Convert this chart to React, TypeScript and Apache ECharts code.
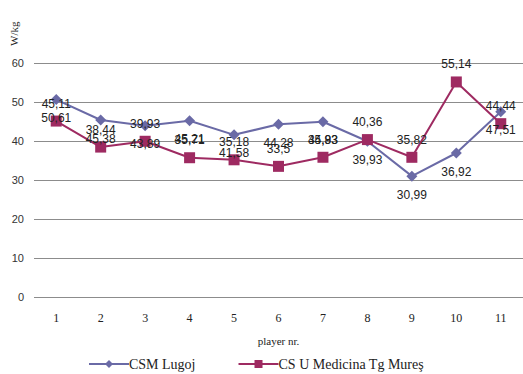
import React, { useEffect, useRef } from "react";
import * as echarts from "echarts";

const categories = ["1", "2", "3", "4", "5", "6", "7", "8", "9", "10", "11"];
const csmLugoj = [50.61, 45.38, 43.89, 45.21, 41.58, 44.28, 44.93, 39.93, 30.99, 36.92, 47.51];
const csuMedicina = [45.11, 38.44, 39.93, 35.71, 35.18, 33.5, 35.83, 40.36, 35.82, 55.14, 44.44];
const seriesNames = ["CSM Lugoj", "CS U Medicina Tg Mureş"];

const fmt = (v: number) => String(v).replace(".", ",");

export default function App() {
  const ref = useRef<HTMLDivElement>(null);
  useEffect(() => {
    if (!ref.current) return;
    const chart = echarts.init(ref.current, undefined, { renderer: "svg" });
    const labelFont = { fontFamily: "Liberation Sans", fontSize: 12, color: "#222" };
    chart.setOption({
      animation: false,
      backgroundColor: "#fff",
      grid: { left: 34, top: 63, width: 500, height: 234, containLabel: false },
      xAxis: {
        type: "category",
        data: categories,
        boundaryGap: true,
        axisLine: { show: false },
        axisTick: { show: false },
        axisLabel: { margin: 15, fontFamily: "Liberation Serif", fontSize: 12, color: "#222" },
        name: "player nr.",
        nameLocation: "middle",
        nameGap: 38,
        nameTextStyle: { fontFamily: "Liberation Serif", fontSize: 11, color: "#222" },
      },
      yAxis: {
        type: "value",
        min: 0,
        max: 60,
        interval: 10,
        axisLine: { show: false },
        axisTick: { show: false },
        axisLabel: { margin: 10, fontFamily: "Liberation Sans", fontSize: 11, color: "#333" },
        splitLine: { lineStyle: { color: "#8c8c8c", width: 1 } },
      },
      legend: {
        left: 83,
        top: 352,
        itemWidth: 40,
        itemHeight: 10,
        itemGap: 42,
        textStyle: { fontFamily: "Liberation Serif", fontSize: 14, color: "#222", padding: [0, 0, 0, -5] },
        data: seriesNames,
      },
      graphic: [
        {
          type: "text",
          x: 8,
          y: 46,
          rotation: Math.PI / 2,
          style: { text: "W/kg", fontFamily: "Liberation Serif", fontSize: 11, fill: "#222" },
        },
      ],
      series: [
        {
          name: seriesNames[0],
          type: "line",
          data: csmLugoj,
          symbol: "diamond",
          symbolSize: 11,
          color: "#6a6aa6",
          lineStyle: { width: 2, color: "#6a6aa6" },
          itemStyle: { color: "#6a6aa6" },
          label: { show: true, position: "bottom", distance: 7, formatter: (p: any) => fmt(p.value), ...labelFont },
        },
        {
          name: seriesNames[1],
          type: "line",
          data: csuMedicina,
          symbol: "rect",
          symbolSize: 11,
          color: "#9e2a61",
          lineStyle: { width: 2, color: "#9e2a61" },
          itemStyle: { color: "#9e2a61" },
          label: { show: true, position: "top", distance: 6, formatter: (p: any) => fmt(p.value), ...labelFont },
        },
      ],
    });
    return () => chart.dispose();
  }, []);
  return (
    <div
      ref={ref}
      style={{ position: "fixed", left: 0, top: 0, width: 523, height: 374 }}
    />
  );
}
